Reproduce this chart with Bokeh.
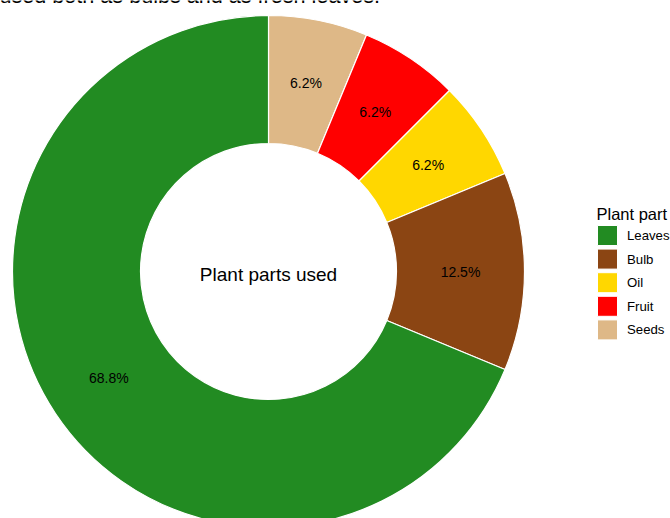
import numpy as np
from bokeh.plotting import figure
from bokeh.models import Range1d, ColumnDataSource
from bokeh.core.properties import value
from bokeh.embed import file_html
from bokeh.resources import INLINE

# ---- data ----
parts = ["Seeds", "Fruit", "Oil", "Bulb", "Leaves"]          # clockwise from 12 o'clock
counts = [1, 1, 1, 2, 11]
colors = ["#DEB887", "#FF0000", "#FFD700", "#8B4513", "#228B22"]
legend_order = ["Leaves", "Bulb", "Oil", "Fruit", "Seeds"]
legend_colors = ["#228B22", "#8B4513", "#FFD700", "#FF0000", "#DEB887"]
title_text = "used both as bulbs and as fresh leaves."
center_text = "Plant parts used"
legend_title = "Plant part"

W, H = 670, 518
FONT = "Liberation Sans"

p = figure(width=W, height=H, output_backend="svg", toolbar_location=None,
           x_range=Range1d(0, W), y_range=Range1d(0, H),
           x_axis_location=None, y_axis_location=None, min_border=0)
p.grid.visible = False
p.outline_line_color = None
p.background_fill_color = "white"
p.border_fill_color = "white"

cx, cy = 268, H - 271
r_out, r_in = 256, 128

vals = np.array(counts, dtype=float)
frac = vals / vals.sum()
cum = np.concatenate([[0], np.cumsum(frac)])
start = np.pi / 2 - 2 * np.pi * cum[:-1]
end = np.pi / 2 - 2 * np.pi * cum[1:]
mid = (start + end) / 2
r_mid = (r_in + r_out) / 2
labels = ["%.1f%%" % (f * 100) for f in frac]

src = ColumnDataSource(dict(start=start, end=end, color=colors,
                            lx=cx + r_mid * np.cos(mid), ly=cy + r_mid * np.sin(mid),
                            label=labels))
p.annular_wedge(x=cx, y=cy, inner_radius=r_in, outer_radius=r_out,
                start_angle="start", end_angle="end", direction="clock",
                fill_color="color", line_color="white", line_width=1.2, source=src)
p.text(x="lx", y="ly", text="label", source=src, text_align="center",
       text_baseline="middle", text_font=value(FONT), text_font_size="14px",
       text_color="black")

p.text(x=[cx], y=[H - 273.5], text=[center_text], text_align="center",
       text_baseline="alphabetic", text_font=value(FONT), text_font_size="19px",
       text_color="black")

p.text(x=[-1], y=[H + 5], text=[title_text], text_align="left",
       text_baseline="alphabetic", text_font=value(FONT), text_font_size="21.6px",
       text_color="black")

# legend
p.text(x=[596], y=[H - 213], text=[legend_title], text_align="left",
       text_baseline="alphabetic", text_font=value(FONT), text_font_size="16.5px",
       text_color="black")
row_y = H - (235 + 23.6 * np.arange(len(legend_order)))
p.rect(x=607, y=row_y, width=20, height=20, fill_color=legend_colors,
       line_color="white", line_width=1)
p.text(x=626.5, y=row_y, text=legend_order, text_align="left",
       text_baseline="middle", text_font=value(FONT), text_font_size="13.2px",
       text_color="black")

open("out.html", "w").write(file_html(p, INLINE))
